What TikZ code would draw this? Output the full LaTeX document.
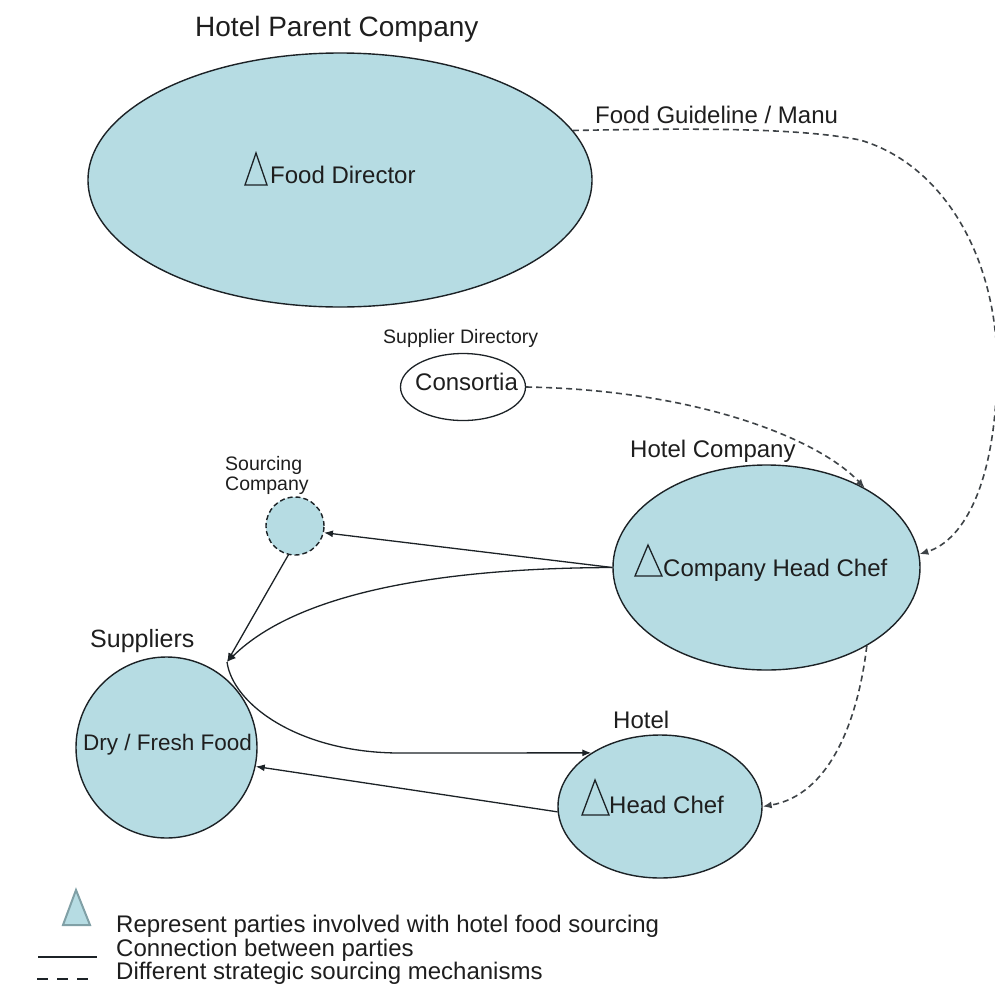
\documentclass[tikz,border=0pt]{standalone}
\usepackage{fontspec}
\setmainfont{Liberation Sans}
\usetikzlibrary{arrows.meta,shapes.geometric}
\definecolor{pale}{RGB}{182,220,227}
\definecolor{ink}{RGB}{28,34,38}
\definecolor{txt}{RGB}{30,30,30}
\definecolor{keyline}{RGB}{128,160,166}
\newcommand{\fsz}[1]{\fontsize{#1}{#1}\selectfont}

\begin{document}
\begin{tikzpicture}[x=1pt,y=-1pt,
  party/.style={ellipse, draw=ink, line width=1.4pt, fill=pale, inner sep=0pt},
  lbl/.style={inner sep=0pt, anchor=base west, text=txt},
  link/.style={draw=ink, line width=1.3pt, -{Latex[length=9pt,width=7pt]}},
  mech/.style={draw=ink!85, line width=1.6pt, dash pattern=on 6pt off 4pt, -{Latex[length=9pt,width=7pt]}},
  marker/.style={draw=ink, line width=1.3pt, line join=miter}
]
\useasboundingbox (0,0) rectangle (994,994);

% ---- parties ----
\node[party, minimum width=504pt, minimum height=254pt] (fd) at (340,180) {};
\node[ellipse, draw=ink, line width=1.3pt, minimum width=125pt, minimum height=67pt, inner sep=0pt] (cons) at (463,387) {};
\node[party, minimum width=307pt, minimum height=205pt] (chc) at (766.5,567.5) {};
\node[party, shape=circle, minimum size=58pt, dash pattern=on 5pt off 3pt] (sc) at (295,526) {};
\node[party, shape=circle, minimum size=181pt] (sup) at (166.5,747.5) {};
\node[party, minimum width=204pt, minimum height=143pt] (ht) at (660,806.5) {};

% ---- titles and contents ----
\node[lbl, font=\fsz{28}] (tparent) at (195,36) {Hotel Parent Company};
\node[lbl, font=\fsz{24}] (tguide) at (595,123) {Food Guideline / Manu};
\node[lbl, font=\fsz{24}] (tfd) at (270,183) {Food Director};
\node[lbl, font=\fsz{19.5}] (tdir) at (383,343) {Supplier Directory};
\node[lbl, font=\fsz{24}] (tcons) at (415,390) {Consortia};
\node[lbl, font=\fsz{24}] (thc) at (630,457) {Hotel Company};
\node[lbl, font=\fsz{24}] (tchc) at (663,576) {Company Head Chef};
\node[lbl, font=\fsz{19.5}] (tsc1) at (225,470) {Sourcing};
\node[lbl, font=\fsz{19.5}] (tsc2) at (225,490) {Company};
\node[lbl, font=\fsz{25}] (tsup) at (90,647) {Suppliers};
\node[lbl, font=\fsz{22.5}] (tfood) at (83,750) {Dry / Fresh Food};
\node[lbl, font=\fsz{24}] (thotel) at (613,728) {Hotel};
\node[lbl, font=\fsz{24}] (thead) at (609,813) {Head Chef};

% ---- party markers ----
\draw[marker] (245,185) -- (256,153) -- (267,185) -- cycle;
\draw[marker] (635,576) -- (648,545) -- (662,576) -- cycle;
\draw[marker] (582,815) -- (595,780) -- (609,815) -- cycle;

% ---- connections between parties ----
\coordinate (sin) at (227,662);
\draw[link] (chc.west) -- (sc.-13);
\draw[link] (chc.west) .. controls (450,568) and (300,590) .. (sin);
\draw[link] (sc.257) -- (sin);
\draw[link] (sin) .. controls (233,705) and (300,753) .. (400,753) -- (ht.142);
\draw[link] (ht.183) -- (sup.-12);

% ---- strategic sourcing mechanisms ----
\draw[mech] (fd.12) .. controls (700,128) and (800,128) .. (860,140)
  .. controls (945,165) and (997,260) .. (997,365)
  .. controls (997,480) and (965,540) .. (chc.5);
\draw[mech] (cons.east) .. controls (700,390) and (820,440) .. (chc.39.5);
\draw[mech] (chc.-38) .. controls (858,720) and (830,795) .. (ht.east);

% ---- key ----
\draw[draw=keyline, line width=2pt, fill=pale, line join=miter] (63,925) -- (76,890) -- (90,925) -- cycle;
\draw[ink, line width=1.6pt] (38,957) -- (97,957);
\draw[ink, line width=2pt, dash pattern=on 11pt off 9pt] (37,979) -- (97,979);
\node[lbl, font=\fsz{24}] (k1) at (116,932) {Represent parties involved with hotel food sourcing};
\node[lbl, font=\fsz{24}] (k2) at (116,956) {Connection between parties};
\node[lbl, font=\fsz{24}] (k3) at (116,979) {Different strategic sourcing mechanisms};
\end{tikzpicture}
\end{document}
